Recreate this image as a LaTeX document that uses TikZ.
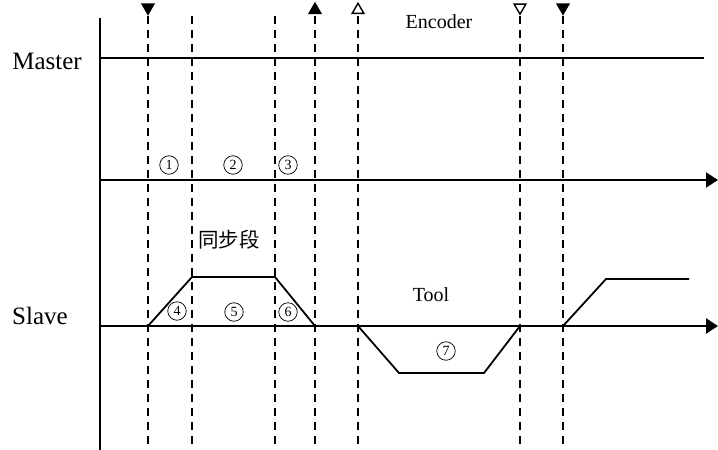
\documentclass[tikz,border=0pt]{standalone}
\usepackage{fontspec}
\setmainfont{Liberation Serif}
\newfontfamily\cjk{Noto Sans CJK SC}
\usetikzlibrary{arrows.meta, positioning, shapes.geometric}
\tikzset{
        x=1pt, y=-1pt,
        axis/.style={line width=2pt, -{Triangle[length=12pt,width=15pt]}}, % time axes
        sigline/.style={line width=1.8pt},
        cut/.style={line width=2pt, dash pattern=on 8pt off 6pt}, % event lines
        seg/.style={circle, draw, line width=0.7pt, minimum size=18.5pt, inner sep=0pt, font=\fontsize{14}{14}\selectfont},
        tipbase/.style={regular polygon, regular polygon sides=3, draw, line width=1.4pt, minimum size=13.5pt, inner sep=0pt},
        tipdown/.style={tipbase, fill=black, shape border rotate=180},
        tipup/.style={tipbase, fill=black},
        tipdownopen/.style={tipbase, fill=white, shape border rotate=180},
        tipupopen/.style={tipbase, fill=white},
        biglabel/.style={font=\fontsize{25}{25}\selectfont},
        smalllabel/.style={font=\fontsize{20}{20}\selectfont},
    }

\begin{document}
\begin{tikzpicture}
    \useasboundingbox (0,0) rectangle (718,450);

    % axes
    \coordinate (o1) at (100,18);
    \coordinate (o2) at (100,450);
    \draw[line width=2pt] (o1) -- (o2);
    \coordinate (ms) at (100,58);
    \coordinate (me) at (704,58);
    \draw[line width=1.6pt] (ms) -- (me);
    \coordinate (ts) at (100,180);
    \coordinate (te) at (718,180);
    \draw[axis] (ts) -- (te);
    \coordinate (ss) at (100,326);
    \coordinate (se) at (718,326);
    \draw[axis, line width=2.4pt] (ss) -- (se);

    % event lines
    \foreach \x/\n in {148/a,192/b,275/c,315/d,358/e,520/f,563/g}{
        \coordinate (top\n) at (\x,16);
        \coordinate (bot\n) at (\x,450);
        \draw[cut] (top\n) -- (bot\n);
    }

    % encoder markers
    \node[tipdown] (ka) at (148,7.5) {};
    \node[tipup] (kd) at (315,10) {};
    \node[tipupopen] (ke) at (358,10) {};
    \node[tipdownopen] (kf) at (520,7.5) {};
    \node[tipdown] (kg) at (563,7.5) {};

    % slave profile
    \coordinate (p1) at (148,326);
    \coordinate (p2) at (192,277);
    \coordinate (p3) at (275,277);
    \coordinate (p4) at (315,326);
    \draw[sigline] (p1) -- (p2) -- (p3) -- (p4);
    \coordinate (q1) at (358,326);
    \coordinate (q2) at (399,373);
    \coordinate (q3) at (484,373);
    \coordinate (q4) at (520,326);
    \draw[sigline] (q1) -- (q2) -- (q3) -- (q4);
    \coordinate (r1) at (563,326);
    \coordinate (r2) at (606,279);
    \coordinate (r3) at (689,279);
    \draw[sigline] (r1) -- (r2) -- (r3);

    % labels
    \node[biglabel] (master) at (47,61) {Master};
    \node[biglabel] (slave) at (40,316) {Slave};
    \node[smalllabel] (encoder) at (439,22) {Encoder};
    \node[smalllabel] (tool) at (431,295) {Tool};
    \node[font=\cjk\fontsize{20.5}{20.5}\selectfont] (sync) at (229,240) {同步段};

    \node[seg] (n1) at (169,165) {1};
    \node[seg] (n2) at (233,165) {2};
    \node[seg] (n3) at (288,165) {3};
    \node[seg] (n4) at (177,311) {4};
    \node[seg] (n5) at (234,312) {5};
    \node[seg] (n6) at (288,312) {6};
    \node[seg] (n7) at (446,351) {7};
\end{tikzpicture}
\end{document}
